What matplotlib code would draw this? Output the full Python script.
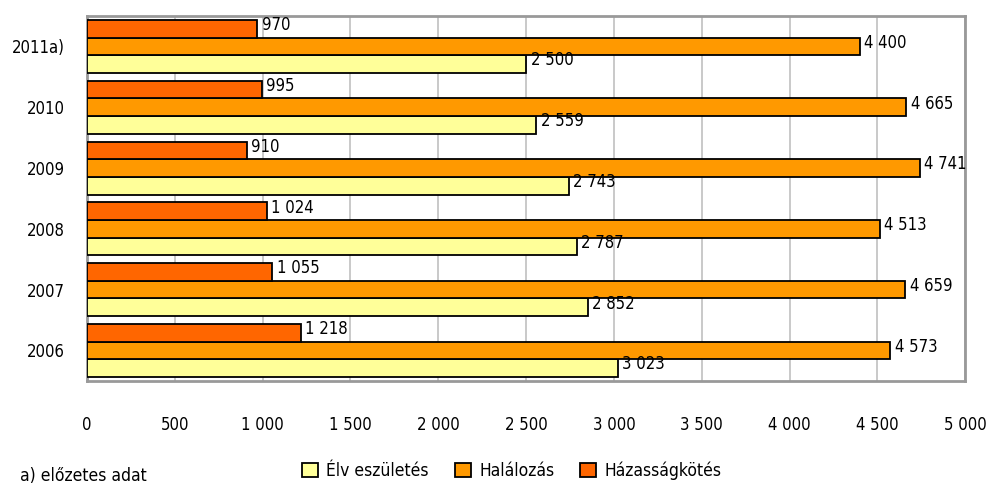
import matplotlib
matplotlib.use("Agg")
import matplotlib.pyplot as plt
import numpy as np
from matplotlib.patches import Patch

plt.rcParams["font.family"] = ["DejaVu Sans"]
plt.rcParams["font.stretch"] = "condensed"

years = ["2006", "2007", "2008", "2009", "2010", "2011a)"]
elveszuletes = [3023, 2852, 2787, 2743, 2559, 2500]
halalozas = [4573, 4659, 4513, 4741, 4665, 4400]
hazassagkotes = [1218, 1055, 1024, 910, 995, 970]

series = [
    ("Élv eszületés", elveszuletes, "#FFFF99"),
    ("Halálozás", halalozas, "#FF9900"),
    ("Házasságkötés", hazassagkotes, "#FF6600"),
]


def fmt(v):
    return f"{v:,}".replace(",", " ")


fig = plt.figure(figsize=(9.88, 4.87), dpi=100)
ax = fig.add_axes([0.088, 0.218, 0.889, 0.749])

y = np.arange(len(years))
h = 0.29
offsets = [-h, 0, h]
for (name, vals, color), off in zip(series, offsets):
    ax.barh(y + off, vals, height=h, color=color, edgecolor="black",
            linewidth=1.3, zorder=3, label=name)
    for yi, v in zip(y, vals):
        ax.text(v + 25, yi + off + 0.06, fmt(v), va="center", ha="left",
                fontsize=12, zorder=4)

ax.set_xlim(0, 5000)
ax.set_ylim(-0.5, 5.5)
ax.set_xticks(np.arange(0, 5001, 500))
ax.set_xticklabels([fmt(v) for v in range(0, 5001, 500)], fontsize=12)
ax.set_yticks(y)
ax.set_yticklabels(years, fontsize=12)
ax.tick_params(length=0)
ax.tick_params(axis="x", pad=25)
ax.tick_params(axis="y", pad=16)
ax.grid(axis="x", color="#C0C0C0", linewidth=1.2, zorder=0)
for s in ax.spines.values():
    s.set_color("#999999")
    s.set_linewidth(2)

handles = [Patch(facecolor=c, edgecolor="black", linewidth=1.3) for _, _, c in series]
fig.legend(handles, [n for n, _, _ in series], loc="center left",
           bbox_to_anchor=(0.29, 0.033), ncol=3, frameon=False, fontsize=12.5,
           handlelength=0.9, handleheight=0.9, handletextpad=0.5,
           columnspacing=1.5)
fig.text(0.02, 0.022, "a) előzetes adat", fontsize=12.5, va="center")

fig.savefig("out.png", dpi=100)
